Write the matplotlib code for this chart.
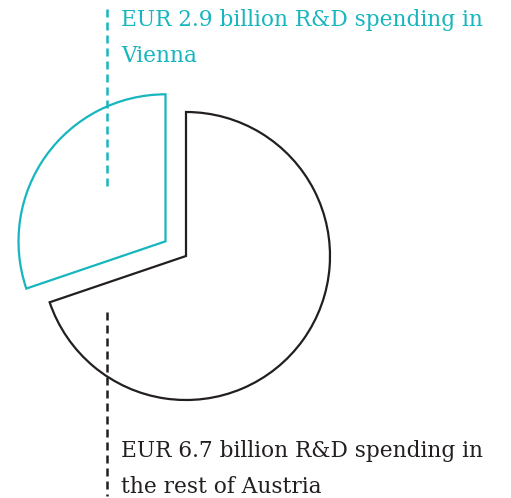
import matplotlib
matplotlib.use("Agg")
import matplotlib.pyplot as plt

# data
labels = ["EUR 6.7 billion R&D spending in\nthe rest of Austria",
          "EUR 2.9 billion R&D spending in\nVienna"]
values = [6.7, 2.9]
colors = ["#231f20", "#17b6bf"]
explode_frac = [0.0, 0.175]

W, H = 511, 498
fig = plt.figure(figsize=(W / 100, H / 100), dpi=100)
ax = fig.add_axes([0, 0, 1, 1])

# pie drawn in pixel coordinates (y measured from bottom)
cx, cy, r = 186, H - 256, 144
wedges, _ = ax.pie(values, startangle=90, counterclock=False,
                   center=(cx, cy), radius=r, frame=True,
                   explode=[e * r for e in explode_frac],
                   wedgeprops=dict(fill=False, linewidth=1.6))
for w, c in zip(wedges, colors):
    w.set_edgecolor(c)
    w.set_joinstyle("miter")
wedges[1].set_radius(r + 3)  # the Vienna piece is drawn a touch larger

ax.set_xlim(0, W)
ax.set_ylim(0, H)
ax.set_aspect("equal")
ax.axis("off")

# dashed leader lines
ax.plot([107, 107], [H - 9, H - 190], color=colors[1], lw=1.8,
        dashes=(3.2, 2.0))
ax.plot([107, 107], [H - 312, H - 496], color=colors[0], lw=1.8,
        dashes=(3.2, 2.0))

# labels, one text per line so the baselines sit where they should
font = dict(family="DejaVu Serif", fontsize=15.6, va="baseline", ha="left")
for lab, c, base in [(labels[1], colors[1], 26), (labels[0], colors[0], 457)]:
    for i, line in enumerate(lab.split("\n")):
        ax.text(121, H - (base + i * 35.5), line, color=c, **font)

fig.savefig("out.png", dpi=100)
